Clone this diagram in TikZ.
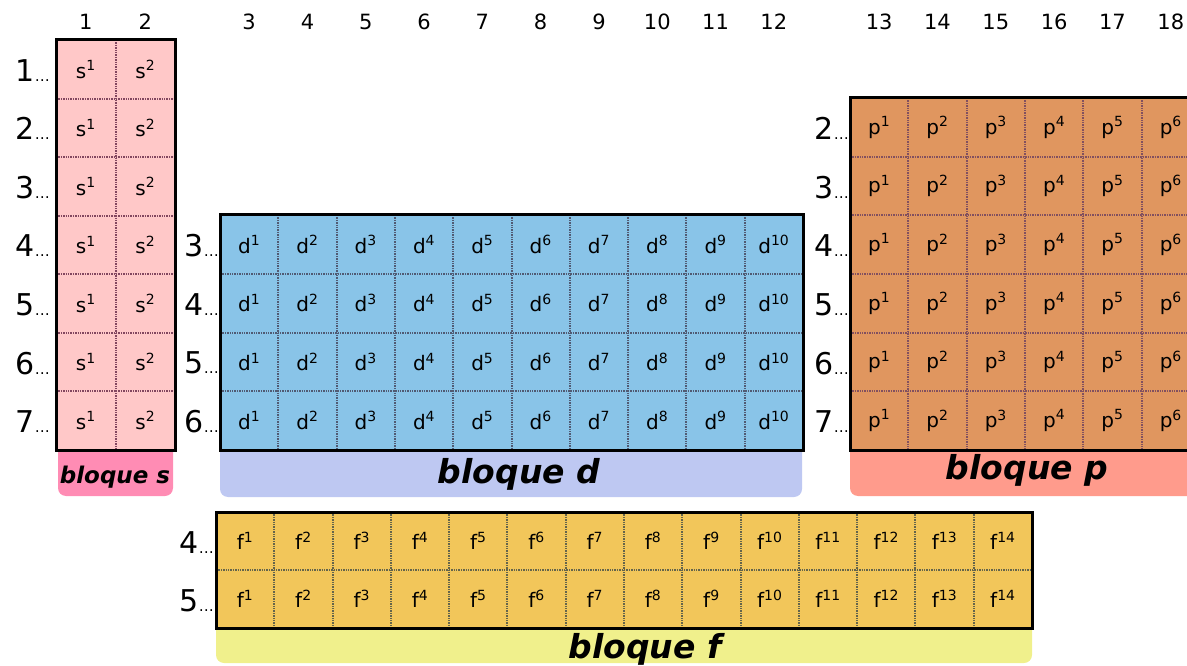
\documentclass[tikz,border=0pt]{standalone}
\usepackage{fontspec}
\setmainfont{DejaVu Sans}
\definecolor{sfill}{RGB}{255,200,200}
\definecolor{slab}{RGB}{255,140,180}
\definecolor{sgrid}{RGB}{130,70,95}
\definecolor{dfill}{RGB}{137,196,232}
\definecolor{dlab}{RGB}{190,200,242}
\definecolor{dgrid}{RGB}{80,90,115}
\definecolor{pfill}{RGB}{224,150,95}
\definecolor{plab}{RGB}{255,155,140}
\definecolor{pgrid}{RGB}{130,80,95}
\definecolor{ffill}{RGB}{242,198,90}
\definecolor{flab}{RGB}{240,240,140}
\definecolor{fgrid}{RGB}{100,100,75}
\newcommand\rowtxt[1]{{\fontsize{30}{30}\selectfont #1}{\fontsize{15}{15}\selectfont …}}
\begin{document}
\begin{tikzpicture}[x=1pt,y=-1pt,
  cell/.style={font=\fontsize{20}{20}\selectfont, inner sep=0pt},
  colnum/.style={font=\fontsize{21}{21}\selectfont, inner sep=0pt},
  rowlab/.style={anchor=base east, inner sep=0pt},
  gridline/.style={line width=2pt, dash pattern=on 1.4pt off 1pt},
  border/.style={line width=3pt, line join=miter},
  labtext/.style={font=\bfseries\itshape\fontsize{33}{33}\selectfont, inner sep=0pt}]
\clip (0,0) rectangle (1187,666);
\useasboundingbox (0,0) rectangle (1187,666);
% label boxes
\fill[slab, rounded corners=8pt] (58,430) rectangle (173,496);
\fill[dlab, rounded corners=8pt] (220,430) rectangle (802,497);
\fill[plab, rounded corners=8pt] (850,430) rectangle (1220,496);
\fill[flab, rounded corners=8pt] (216,600) rectangle (1032,663);
\node[labtext, font=\bfseries\itshape\fontsize{23}{23}\selectfont] (ls) at (115,477) {bloque s};
\node[labtext] (ld) at (519,474) {bloque d};
\node[labtext] (lp) at (1027,470) {bloque p};
\node[labtext] (lf) at (645,649) {bloque f};
% s block
\fill[sfill] (56,40) rectangle (175,450);
\foreach \c in {1,2} \foreach \r in {1,...,7}
  \node[cell] (s\r-\c) at ({56+59.5*(\c-0.5)},{40+58.57*(\r-0.5)}) {s\textsuperscript{\c}};
\draw[gridline, sgrid] (115.5,40) -- (115.5,450);
\foreach \r in {1,...,6} \draw[gridline, sgrid] (56,{40+58.57*\r}) -- (175,{40+58.57*\r});
\draw[border] (56,40) rectangle (175,450);
\foreach \r in {1,...,7} \node[rowlab] (sr\r) at (50,{40+58.57*(\r-0.5)+12}) {\rowtxt{\r}};
\foreach \c in {1,2} \node[colnum] (cn\c) at ({56+59.5*(\c-0.5)},22) {\c};
% d block
\fill[dfill] (220,215) rectangle (803,450);
\foreach \c in {1,...,10} \foreach \r in {1,...,4}
  \node[cell] (d\r-\c) at ({220+58.3*(\c-0.5)},{215+58.75*(\r-0.5)}) {d\textsuperscript{\c}};
\foreach \c in {1,...,9} \draw[gridline, dgrid] ({220+58.3*\c},215) -- ({220+58.3*\c},450);
\foreach \r in {1,...,3} \draw[gridline, dgrid] (220,{215+58.75*\r}) -- (803,{215+58.75*\r});
\draw[border] (220,215) rectangle (803,450);
\foreach \r [evaluate=\r as \n using int(\r+2)] in {1,...,4}
  \node[rowlab] (dr\r) at (219,{215+58.75*(\r-0.5)+12}) {\rowtxt{\n}};
\foreach \c [evaluate=\c as \n using int(\c+2)] in {1,...,10}
  \node[colnum] (cn\n) at ({220+58.3*(\c-0.5)},22) {\n};
% p block
\fill[pfill] (850,98) rectangle (1200,450);
\foreach \c in {1,...,6} \foreach \r in {1,...,6}
  \node[cell] (p\r-\c) at ({850+58.33*(\c-0.5)},{98+58.67*(\r-0.5)}) {p\textsuperscript{\c}};
\foreach \c in {1,...,5} \draw[gridline, pgrid] ({850+58.33*\c},98) -- ({850+58.33*\c},450);
\foreach \r in {1,...,5} \draw[gridline, pgrid] (850,{98+58.67*\r}) -- (1200,{98+58.67*\r});
\draw[border] (850,98) rectangle (1200,450);
\foreach \r [evaluate=\r as \n using int(\r+1)] in {1,...,6}
  \node[rowlab] (pr\r) at (849,{98+58.67*(\r-0.5)+12}) {\rowtxt{\n}};
\foreach \c [evaluate=\c as \n using int(\c+12)] in {1,...,6}
  \node[colnum] (cn\n) at ({850+58.33*(\c-0.5)},22) {\n};
% f block
\fill[ffill] (216,512) rectangle (1032,628);
\foreach \c in {1,...,14} \foreach \r in {1,2}
  \node[cell] (f\r-\c) at ({216+58.29*(\c-0.5)},{512+58*(\r-0.5)}) {f\textsuperscript{\c}};
\foreach \c in {1,...,13} \draw[gridline, fgrid] ({216+58.29*\c},512) -- ({216+58.29*\c},628);
\draw[gridline, fgrid] (216,570) -- (1032,570);
\draw[border] (216,512) rectangle (1032,628);
\foreach \r [evaluate=\r as \n using int(\r+3)] in {1,2}
  \node[rowlab] (fr\r) at (214,{512+58*(\r-0.5)+12}) {\rowtxt{\n}};
\end{tikzpicture}
\end{document}
